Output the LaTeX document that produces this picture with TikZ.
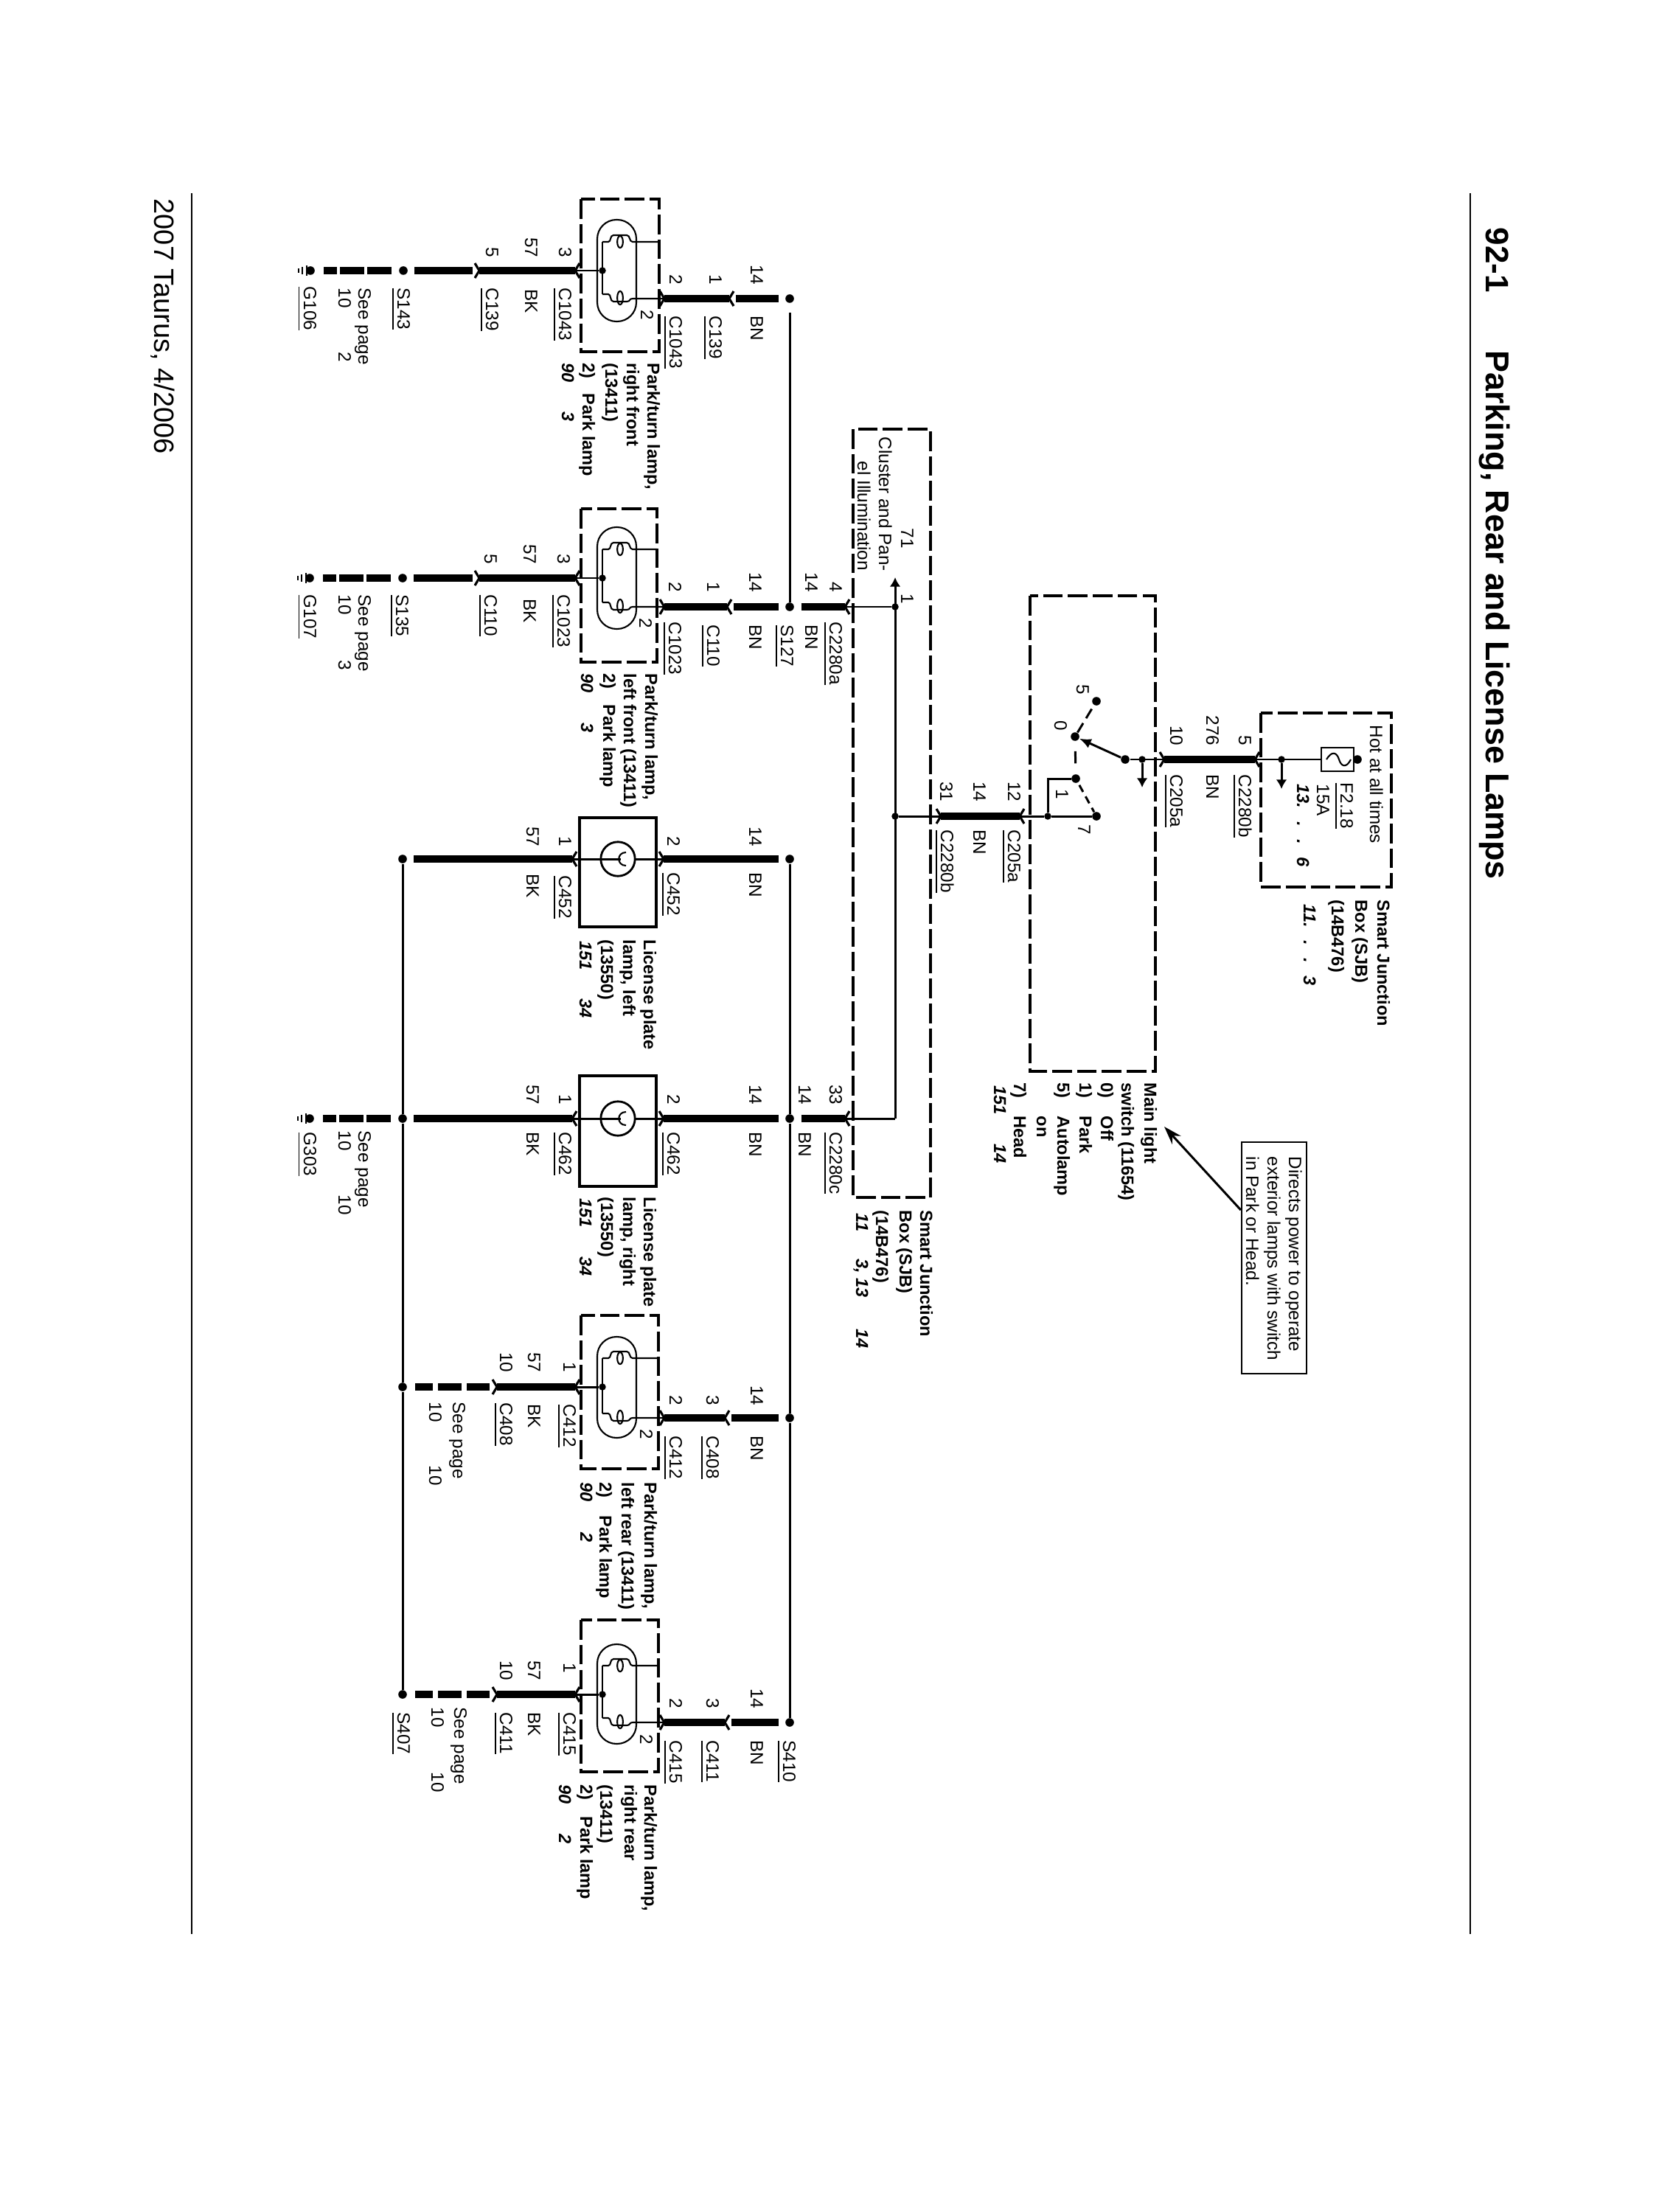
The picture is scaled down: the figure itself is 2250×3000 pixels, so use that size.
\documentclass[tikz,border=0pt]{standalone}
\usepackage{fontspec}
\setmainfont{Liberation Sans}
\usetikzlibrary{arrows.meta}
\newcount\tagno
\tikzset{
  txt/.style={rotate=-90,anchor=base west,inner sep=0pt,font=\fontsize{6.9pt}{8pt}\selectfont},
  txtb/.style={txt,font=\fontsize{6.7pt}{8pt}\selectfont\bfseries},
  txti/.style={txt,font=\fontsize{6.7pt}{8pt}\selectfont\bfseries\itshape},
  heavy/.style={line width=2.7pt,line cap=butt},
  thinw/.style={line width=0.85pt},
  hair/.style={line width=0.6pt},
  dbox/.style={line width=1.25pt,dash pattern=on 7.6pt off 2pt},
  sbox/.style={line width=1.3pt},
  pinmark/.style={line width=0.9pt,miter limit=4},
  jdot/.style={circle,fill=black,inner sep=0pt,minimum size=2.7pt},
  bigdot/.style={circle,fill=black,inner sep=0pt,minimum size=3.3pt},
  tiny tip/.style={-{Latex[length=3.6pt,width=4.2pt]}},
  gapboth/.style={shorten <=2.6pt,shorten >=2.4pt},
  earthdash/.style={heavy,dash pattern=on 9.2pt off 1.3pt,shorten <=2.8pt,shorten >=3.4pt},
  reardash/.style={heavy,dash pattern=on 8.9pt off 2pt,shorten <=2.9pt,shorten >=2.9pt},
}
\newcommand\tlab[3]{\global\advance\tagno by 1 \node[txt] (t\the\tagno) at (#1,#2) {#3};}
\newcommand\tlabe[3]{\global\advance\tagno by 1 \node[txt,anchor=base east] (t\the\tagno) at (#1,#2) {#3};}
\newcommand\tlabb[3]{\global\advance\tagno by 1 \node[txtb] (t\the\tagno) at (#1,#2) {#3};}
\newcommand\tlabi[3]{\global\advance\tagno by 1 \node[txti] (t\the\tagno) at (#1,#2) {#3};}
\newcommand\ulab[1]{\vtop{\hbox{#1}\kern1.5pt\hrule height 0.55pt}}
% chevron, apex to the right (left end of a heavy wire)
\newcommand\chevA[3]{\coordinate (#1) at (#2,#3);
  \draw[pinmark] ([shift={(-6,-10)}]#1) -- (#1) -- ([shift={(-6,10)}]#1);}
% chevron, apex to the left (right end of a heavy wire)
\newcommand\chevB[3]{\coordinate (#1) at (#2,#3);
  \draw[pinmark] ([shift={(6,-10)}]#1) -- (#1) -- ([shift={(6,10)}]#1);}
% earth symbol
\newcommand\earth[3]{\node[bigdot] (#1) at (#2,#3) {};
  \draw[hair] (#2-5,#3-7) -- (#2-5,#3+7) (#2-11,#3-5) -- (#2-11,#3+5) (#2-16,#3-3) -- (#2-16,#3+3);}
% prefix, box top, box bottom, oval top, oval bottom, upper filament y, BK y, BN y, box right
\newcommand\parklamp[9]{
  \coordinate (#1a) at (788,#2); \coordinate (#1b) at (#9,#3);
  \draw[dbox] (#1a) rectangle (#1b);
  \draw[hair,rounded corners=7.4pt] (810,#4) rectangle (863,#5);
  \draw[hair] (817,#6) -- (817,#8-6);
  \draw[hair] (817,#6) -- (825,#6) .. controls (829,#6) and (827,#6-9) .. (832,#6-9) -- (850,#6-9)
     .. controls (855,#6-9) and (853,#6) .. (858,#6) -- (#9,#6);
  \draw[hair] (841,#6) ellipse [x radius=1.1pt,y radius=2.3pt];
  \draw[hair] (817,#8-6) -- (825,#8-6) .. controls (829,#8-6) and (827,#8+4) .. (832,#8+4) -- (850,#8+4)
     .. controls (855,#8+4) and (853,#8) .. (858,#8) -- (901,#8);
  \draw[hair] (841,#8-1) ellipse [x radius=1.1pt,y radius=2.6pt];
  \node[jdot] (#1j) at (817,#7) {};
  \chevB{#1l}{780}{#7} \chevA{#1r}{901}{#8}
  \draw[thinw] (#1j) -- (#1l);
}
% prefix, box top, box bottom, y
\newcommand\platelamp[4]{
  \node[sbox,draw,minimum width=10.4mm,minimum height=#3mm/10-#2mm/10,inner sep=0pt] (#1box) at (838,#2/2+#3/2) {};
  \draw[hair,line width=0.8pt] (838,#4) circle [radius=6.6pt];
  \chevB{#1l}{776}{#4} \chevA{#1r}{900}{#4}
  \draw[thinw] (#1l) -- (842,#4);
  \draw[thinw] (861,#4) -- (#1r);
  \draw[hair] (849,#4-9) .. controls (836,#4-9) and (836,#4+9) .. (849,#4+9);
}
\begin{document}
\begin{tikzpicture}[x=0.1mm,y=-0.1mm]
\useasboundingbox (0,0) rectangle (2250,3000);

% page rules, title, footer
\coordinate (ruleTa) at (1994,262); \coordinate (ruleTb) at (1994,2623);
\coordinate (ruleBa) at (260,262);  \coordinate (ruleBb) at (260,2623);
\draw[line width=0.8pt] (ruleTa) -- (ruleTb);
\draw[line width=0.8pt] (ruleBa) -- (ruleBb);
\node[txt,font=\fontsize{12.5pt}{14pt}\selectfont\bfseries] (pageno) at (2015,308) {92-1};
\node[txt,font=\fontsize{12.75pt}{14pt}\selectfont\bfseries] (title) at (2015,475) {Parking, Rear and License Lamps};
\node[txt,font=\fontsize{10.8pt}{12pt}\selectfont] (footer) at (209,269) {2007 Taurus, 4/2006};

% ---------- upper Smart Junction Box ----------
\coordinate (sjbAa) at (1710,967); \coordinate (sjbAb) at (1887,1203);
\draw[dbox] (sjbAa) rectangle (sjbAb);
\node[draw,line width=0.75pt,minimum width=4.4mm,minimum height=3.2mm,inner sep=0pt] (fuse) at (1814,1030) {};
\draw[hair] (1799,1030) .. controls (1806,1018) and (1813,1020) .. (1816,1030) .. controls (1819,1040) and (1826,1042) .. (1832,1030);
\node[bigdot] (fusein) at (1841,1030) {};
\node[jdot] (sjbtap) at (1738,1030) {};
\coordinate (sjbtapend) at (1738,1070);
\chevB{c2280bA}{1702}{1030} \chevA{c205A}{1579}{1030}
\draw[heavy] (c205A) -- (c2280bA);
\draw[thinw] (c2280bA) -- (fuse.west);
\draw[thinw] (fuse.east) -- (fusein);
\draw[thinw,tiny tip] (sjbtap) -- (sjbtapend);
\tlab{1858}{983}{Hot at all times}
\tlab{1818}{1061}{\ulab{F2.18}}
\tlab{1786}{1063}{15A}
\tlabi{1759}{1063}{13.\kern5pt.\kern5pt.\kern5pt 6}
\tlabb{1868}{1220}{Smart Junction}
\tlabb{1838}{1220}{Box (SJB)}
\tlabb{1806}{1220}{(14B476)}
\tlabi{1768}{1226}{11.\kern5pt.\kern5pt.\kern5pt 3}
\tlabe{1680}{1012}{5}
\tlab{1680}{1050}{\ulab{C2280b}}
\tlabe{1636}{1012}{276}
\tlab{1636}{1050}{BN}
\tlabe{1587}{1012}{10}
\tlab{1587}{1050}{\ulab{C205a}}

% ---------- main light switch ----------
\coordinate (swa) at (1397,808); \coordinate (swb) at (1567,1453);
\draw[dbox] (swa) rectangle (swb);
\node[jdot] (swtap) at (1549,1030) {};
\coordinate (swtapend) at (1549,1068);
\node[bigdot] (blade) at (1526,1030) {};
\node[bigdot] (sw0) at (1458,999) {};
\node[bigdot] (sw5) at (1487,951) {};
\node[bigdot] (sw1) at (1459,1056) {};
\node[bigdot] (sw7) at (1487,1107) {};
\node[jdot] (swout) at (1421,1107) {};
\coordinate (swcorner) at (1421,1056);
\draw[thinw] (c205A) -- (blade);
\draw[thinw,tiny tip] (swtap) -- (swtapend);
\draw[thinw,-{Latex[length=4.5pt,width=3.8pt]}] (blade) -- (sw0);
\draw[thinw,dash pattern=on 4.2pt off 2.2pt] (sw0) -- (sw5);
\draw[thinw,shorten <=3.8pt,shorten >=4pt] (sw0) -- (sw1);
\draw[thinw,dash pattern=on 3pt off 2pt,shorten <=1pt] (sw1) -- (sw7);
\draw[thinw] (sw1) -- (swcorner) -- (swout);
\chevB{c205B}{1383}{1107} \chevA{c2280bB}{1276}{1107}
\draw[heavy] (c2280bB) -- (c205B);
\draw[thinw] (c205B) -- (swout) -- (sw7);
\tlab{1460}{928}{5} \tlab{1430}{977}{0} \tlab{1432}{1070}{1} \tlab{1462}{1118}{7}
\tlabe{1275}{1088}{31} \tlab{1276}{1125}{\ulab{C2280b}}
\tlabe{1320}{1088}{14} \tlab{1320}{1125}{BN}
\tlabe{1367}{1088}{12} \tlab{1367}{1125}{\ulab{C205a}}
\tlabb{1552}{1468}{Main light}
\tlabb{1521}{1468}{switch (11654)}
\tlabb{1493}{1468}{0)} \tlabb{1493}{1513}{Off}
\tlabb{1464}{1468}{1)} \tlabb{1464}{1513}{Park}
\tlabb{1434}{1468}{5)} \tlabb{1434}{1513}{Autolamp}
\tlabb{1406}{1513}{on}
\tlabb{1375}{1468}{7)} \tlabb{1375}{1513}{Head}
\tlabi{1348}{1472}{151} \tlabi{1348}{1551}{14}

% callout
\node[draw,line width=0.7pt,minimum width=8.8mm,minimum height=31.4mm,inner sep=0pt] (note) at (1728,1706) {};
\coordinate (notetip) at (1579,1528);
\draw[line width=0.85pt,-{Stealth[length=7pt,width=4.6pt]}] ([yshift=6.5mm]note.west) -- (notetip);
\tlab{1748}{1568}{Directs power to operate}
\tlab{1719}{1568}{exterior lamps with switch}
\tlab{1690}{1568}{in Park or Head.}

% ---------- lower Smart Junction Box ----------
\coordinate (sjbBa) at (1157,582); \coordinate (sjbBb) at (1262,1624);
\draw[dbox] (sjbBa) rectangle (sjbBb);
\coordinate (busend) at (1214,783);
\node[jdot] (busA) at (1214,823) {};
\node[jdot] (busB) at (1214,1107) {};
\coordinate (busC) at (1214,1517);
\draw[thinw,tiny tip] (busC) -- (busend);
\draw[thinw] (busB) -- (c2280bB);
\tlab{1192}{592}{Cluster and Pan-}
\tlab{1163}{625}{el Illumination}
\tlab{1222}{716}{71}
\tlab{1222}{805}{1}
\tlabb{1248}{1641}{Smart Junction}
\tlabb{1220}{1641}{Box (SJB)}
\tlabb{1188}{1641}{(14B476)}
\tlabi{1161}{1645}{11} \tlabi{1161}{1707}{3, 13} \tlabi{1161}{1802}{14}

% ---------- junctions on the BN and BK buses ----------
\node[bigdot] (s0)    at (1071,405) {};
\node[bigdot] (s127)  at (1071,823) {};
\node[bigdot] (bnL1)  at (1071,1165) {};
\node[bigdot] (bnL2)  at (1071,1517) {};
\node[bigdot] (bnR1)  at (1071,1923) {};
\node[bigdot] (s410)  at (1071,2336) {};
\node[bigdot] (bkL1)  at (546,1165) {};
\node[bigdot] (bkL2)  at (546,1517) {};
\node[bigdot] (bkR1)  at (546,1881) {};
\node[bigdot] (s407)  at (546,2298) {};
\draw[thinw,shorten <=3.6pt] (s0) -- (s127);
\draw[thinw] (bnL1) -- (bnL2) -- (bnR1) -- (s410);
\draw[thinw] (bkL1) -- (bkL2) -- (bkR1) -- (s407);

% ---------- Park/turn lamp, right front ----------
\parklamp{ga}{270}{477}{298}{436}{328}{367}{405}{894}
\chevB{gaC}{989}{405}
\draw[heavy] (gar) -- (gaC);
\draw[heavy,gapboth] (gaC) -- (s0);
\chevA{gaD}{650}{367}
\draw[heavy] (gaD) -- (gal);
\node[bigdot] (s143) at (547,367) {};
\draw[heavy,gapboth] (gaD) -- (s143);
\earth{g106}{421}{367}
\draw[earthdash] (s143) -- (g106);
\tlabe{1018}{387}{14} \tlab{1018}{428}{BN}
\tlabe{962}{387}{1}   \tlab{962}{428}{\ulab{C139}}
\tlabe{908}{387}{2}   \tlab{908}{428}{\ulab{C1043}}
\tlab{869}{420}{2}
\tlabb{878}{492}{Park/turn lamp,}
\tlabb{850}{492}{right front}
\tlabb{821}{492}{(13411)}
\tlabb{790}{492}{2)} \tlabb{790}{533}{Park lamp}
\tlabi{762}{492}{90} \tlabi{762}{558}{3}
\tlabe{758}{350}{3}  \tlab{758}{390}{\ulab{C1043}}
\tlabe{712}{350}{57} \tlab{712}{392}{BK}
\tlabe{659}{350}{5}  \tlab{659}{390}{\ulab{C139}}
\tlab{539}{390}{\ulab{S143}}
\tlab{486}{390}{See page}
\tlab{459}{390}{10} \tlab{459}{477}{2}
\tlab{412}{388}{\ulab{G106}}

% ---------- Park/turn lamp, left front ----------
\parklamp{gb}{690}{898}{715}{853}{745}{784}{823}{891}
\chevB{gbC}{986}{823}
\draw[heavy] (gbr) -- (gbC);
\draw[heavy,gapboth] (gbC) -- (s127);
\chevB{c2280a}{1146}{823}
\draw[heavy,gapboth,shorten >=0pt] (s127) -- (c2280a);
\draw[thinw] (c2280a) -- (busA);
\chevA{gbD}{650}{784}
\draw[heavy] (gbD) -- (gbl);
\node[bigdot] (s135) at (546,784) {};
\draw[heavy,gapboth] (gbD) -- (s135);
\earth{g107}{420}{784}
\draw[earthdash] (s135) -- (g107);
\tlabe{1125}{804}{4}  \tlab{1125}{843}{\ulab{C2280a}}
\tlabe{1092}{804}{14} \tlab{1092}{847}{BN}
\tlab{1059}{847}{\ulab{S127}}
\tlabe{1016}{804}{14} \tlab{1016}{847}{BN}
\tlabe{959}{804}{1}   \tlab{959}{847}{\ulab{C110}}
\tlabe{907}{804}{2}   \tlab{907}{843}{\ulab{C1023}}
\tlab{867}{838}{2}
\tlabb{875}{913}{Park/turn lamp,}
\tlabb{846}{913}{left front (13411)}
\tlabb{818}{913}{2)} \tlabb{818}{955}{Park lamp}
\tlabi{788}{913}{90} \tlabi{788}{980}{3}
\tlabe{756}{766}{3}  \tlab{756}{806}{\ulab{C1023}}
\tlabe{710}{766}{57} \tlab{710}{812}{BK}
\tlabe{657}{766}{5}  \tlab{657}{806}{\ulab{C110}}
\tlab{537}{806}{\ulab{S135}}
\tlab{486}{806}{See page}
\tlab{459}{806}{10} \tlab{459}{895}{3}
\tlab{412}{806}{\ulab{G107}}

% ---------- License plate lamp, left ----------
\platelamp{gc}{1109}{1257}{1165}
\draw[heavy,shorten >=2.4pt] (gcr) -- (bnL1);
\draw[heavy,shorten >=2.4pt] (gcl) -- (bkL1);
\tlabe{1016}{1149}{14} \tlab{1016}{1183}{BN}
\tlabe{905}{1149}{2}   \tlab{905}{1183}{\ulab{C452}}
\tlabe{758}{1149}{1}   \tlab{758}{1187}{\ulab{C452}}
\tlabe{714}{1149}{57}  \tlab{714}{1185}{BK}
\tlabb{873}{1274}{License plate}
\tlabb{845}{1274}{lamp, left}
\tlabb{815}{1274}{(13550)}
\tlabi{786}{1276}{151} \tlabi{786}{1354}{34}

% ---------- License plate lamp, right ----------
\platelamp{gd}{1459}{1609}{1517}
\draw[heavy,shorten >=2.4pt] (gdr) -- (bnL2);
\draw[heavy,shorten >=2.4pt] (gdl) -- (bkL2);
\chevB{c2280c}{1146}{1517}
\draw[heavy,shorten <=2.6pt] (bnL2) -- (c2280c);
\draw[thinw] (c2280c) -- (busC);
\earth{g303}{420}{1517}
\draw[earthdash] (bkL2) -- (g303);
\tlabe{1125}{1499}{33} \tlab{1125}{1535}{\ulab{C2280c}}
\tlabe{1083}{1499}{14} \tlab{1083}{1535}{BN}
\tlabe{1016}{1499}{14} \tlab{1016}{1535}{BN}
\tlabe{905}{1499}{2}   \tlab{905}{1535}{\ulab{C462}}
\tlabe{758}{1499}{1}   \tlab{758}{1535}{\ulab{C462}}
\tlabe{714}{1499}{57}  \tlab{714}{1535}{BK}
\tlab{486}{1533}{See page}
\tlab{459}{1533}{10} \tlab{459}{1620}{10}
\tlab{412}{1535}{\ulab{G303}}
\tlabb{873}{1623}{License plate}
\tlabb{845}{1623}{lamp, right}
\tlabb{815}{1623}{(13550)}
\tlabi{786}{1625}{151} \tlabi{786}{1704}{34}

% ---------- Park/turn lamp, left rear ----------
\parklamp{ge}{1784}{1992}{1813}{1950}{1842}{1881}{1923}{893}
\chevB{geC}{983}{1923}
\draw[heavy] (ger) -- (geC);
\draw[heavy,gapboth] (geC) -- (bnR1);
\chevA{geD}{674}{1881}
\draw[heavy] (geD) -- (gel);
\draw[reardash] (geD) -- (bkR1);
\tlabe{1018}{1907}{14} \tlab{1018}{1947}{BN}
\tlabe{958}{1907}{3}   \tlab{958}{1947}{\ulab{C408}}
\tlabe{908}{1907}{2}   \tlab{908}{1947}{\ulab{C412}}
\tlab{868}{1938}{2}
\tlabb{874}{2010}{Park/turn lamp,}
\tlabb{843}{2010}{left rear (13411)}
\tlabb{813}{2010}{2)} \tlabb{813}{2055}{Park lamp}
\tlabi{787}{2010}{90} \tlabi{787}{2078}{2}
\tlabe{764}{1862}{1}  \tlab{764}{1904}{\ulab{C412}}
\tlabe{716}{1862}{57} \tlab{716}{1904}{BK}
\tlabe{678}{1862}{10} \tlab{678}{1902}{\ulab{C408}}
\tlab{614}{1901}{See page}
\tlab{582}{1901}{10} \tlab{582}{1987}{10}

% ---------- Park/turn lamp, right rear ----------
\parklamp{gf}{2197}{2403}{2230}{2365}{2259}{2298}{2336}{893}
\chevB{gfC}{983}{2336}
\draw[heavy] (gfr) -- (gfC);
\draw[heavy,gapboth] (gfC) -- (s410);
\chevA{gfD}{674}{2298}
\draw[heavy] (gfD) -- (gfl);
\draw[reardash] (gfD) -- (s407);
\tlabe{1018}{2318}{14} \tlab{1018}{2360}{BN}
\tlabe{958}{2318}{3}   \tlab{958}{2360}{\ulab{C411}}
\tlabe{908}{2318}{2}   \tlab{908}{2360}{\ulab{C415}}
\tlab{1062}{2360}{\ulab{S410}}
\tlab{868}{2352}{2}
\tlabb{874}{2420}{Park/turn lamp,}
\tlabb{847}{2420}{right rear}
\tlabb{814}{2420}{(13411)}
\tlabb{787}{2420}{2)} \tlabb{787}{2463}{Park lamp}
\tlabi{758}{2420}{90} \tlabi{758}{2487}{2}
\tlabe{764}{2270}{1}  \tlab{764}{2322}{\ulab{C415}}
\tlabe{716}{2280}{57} \tlab{716}{2322}{BK}
\tlabe{678}{2280}{10} \tlab{678}{2322}{\ulab{C411}}
\tlab{616}{2315}{See page}
\tlab{585}{2315}{10} \tlab{585}{2403}{10}
\tlab{539}{2322}{\ulab{S407}}
\end{tikzpicture}
\end{document}
